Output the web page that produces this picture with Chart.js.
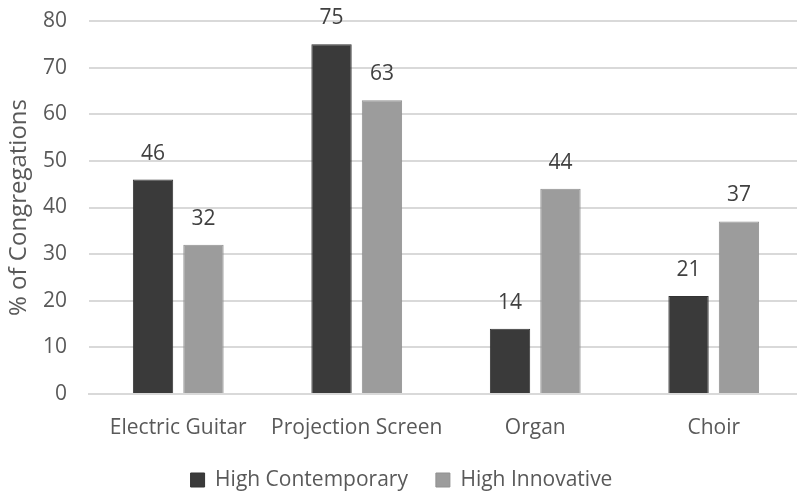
<!DOCTYPE html>
<html>
<head>
<meta charset="utf-8">
<script src="https://cdn.jsdelivr.net/npm/chart.js@4.4.1/dist/chart.umd.min.js"></script>
<style>
  html, body { margin: 0; padding: 0; background: #fff; overflow: hidden; }
  /* plot runs a little past the right edge, as in the original */
  #wrap { width: 803px; height: 492px; position: relative; }
</style>
</head>
<body>
<div id="wrap"><canvas id="chart"></canvas></div>
<script>
// values
const categories = ['Electric Guitar', 'Projection Screen', 'Organ', 'Choir'];
const highContemporary = [46, 75, 14, 21];
const highInnovative = [32, 63, 44, 37];
const yTicks = [0, 10, 20, 30, 40, 50, 60, 70, 80];

const FONT = "'Open Sans', sans-serif";
const TEXT = '#595959';

// simple value labels above each bar
const valueLabels = {
    id: 'valueLabels',
    afterDatasetsDraw(chart) {
        const ctx = chart.ctx;
        ctx.save();
        ctx.font = '21px ' + FONT;
        ctx.fillStyle = '#404040';
        ctx.textAlign = 'center';
        ctx.textBaseline = 'middle';
        chart.data.datasets.forEach((ds, i) => {
            chart.getDatasetMeta(i).data.forEach((bar, j) => {
                ctx.fillText(ds.data[j], bar.x, bar.y - 26);
            });
        });
        ctx.restore();
    }
};

document.addEventListener('DOMContentLoaded', () => {
    new Chart(document.getElementById('chart'), {
        type: 'bar',
        data: {
            labels: categories,
            datasets: [{
                label: 'High Contemporary',
                data: highContemporary,
                backgroundColor: '#3a3a3a',
                borderColor: '#333333',
                borderWidth: 1
            }, {
                label: 'High Innovative',
                data: highInnovative,
                backgroundColor: '#9c9c9c',
                borderColor: '#909090',
                borderWidth: 1
            }]
        },
        options: {
            responsive: true,
            maintainAspectRatio: false,
            animation: false,
            categoryPercentage: 0.565,
            barPercentage: 0.8,
            layout: { padding: { top: 21, right: 0, bottom: -8.5, left: 0 } },
            plugins: {
                legend: {
                    position: 'bottom',
                    labels: {
                        color: TEXT,
                        font: { family: FONT, size: 21 },
                        boxWidth: 14,
                        boxHeight: 14,
                        padding: 28
                    }
                },
                tooltip: { enabled: false }
            },
            scales: {
                x: {
                    afterFit(scale) { scale.height = 47.5; },
                    grid: { display: false, drawTicks: false },
                    border: { color: '#d9d9d9', width: 2 },
                    ticks: {
                        color: TEXT,
                        font: { family: FONT, size: 21 },
                        padding: 21,
                        maxRotation: 0,
                        minRotation: 0,
                        autoSkip: false
                    }
                },
                y: {
                    min: 0,
                    max: 80,
                    afterBuildTicks(scale) {
                        scale.ticks = yTicks.map(v => ({ value: v }));
                    },
                    afterFit(scale) {
                        scale.width = 89;
                        scale.paddingTop = 0;
                    },
                    grid: { color: '#d9d9d9', lineWidth: 2, drawTicks: false },
                    border: { display: false },
                    ticks: {
                        color: TEXT,
                        font: { family: FONT, size: 21 },
                        padding: 22
                    },
                    title: {
                        display: true,
                        text: '% of Congregations',
                        color: TEXT,
                        font: { family: FONT, size: 24 },
                        padding: { top: 5, bottom: 0 }
                    }
                }
            }
        },
        plugins: [valueLabels]
    });
});
</script>
</body>
</html>
